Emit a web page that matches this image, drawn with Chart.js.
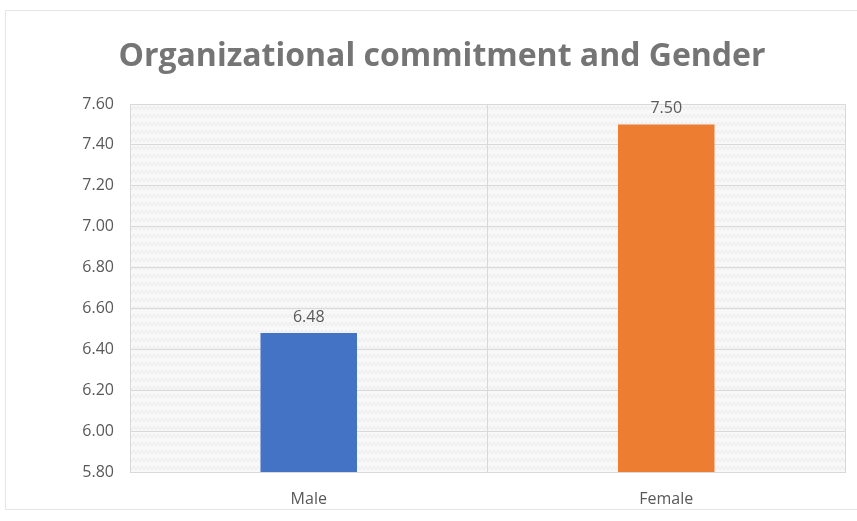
<!DOCTYPE html>
<html>
<head>
<meta charset="utf-8">
<script src="https://cdn.jsdelivr.net/npm/chart.js@4/dist/chart.umd.min.js"></script>
<style>
html,body{margin:0;padding:0;background:#fff;}
#wrap{position:absolute;left:0;top:0;width:857px;height:521px;}
#frame{position:absolute;left:5px;top:10px;width:860px;height:500px;border:1px solid #e6e6e6;box-sizing:border-box;pointer-events:none;}
</style>
</head>
<body>
<div id="wrap"><canvas id="c" width="857" height="521"></canvas></div>
<div id="frame"></div>
<script>
const categories = ["Male", "Female"];
const values = [6.48, 7.50];
const barColors = ["#4472C4", "#ED7D31"];
const titleText = "Organizational commitment and Gender";
const yMin = 5.8, yMax = 7.6, yStep = 0.2;

function makePattern(){
  const p = document.createElement('canvas');
  p.width = 8; p.height = 8;
  const g = p.getContext('2d');
  g.fillStyle = '#f8f8f8'; g.fillRect(0,0,8,8);
  g.strokeStyle = '#ececec'; g.lineWidth = 1;
  g.beginPath(); g.moveTo(0,6); g.lineTo(2,2); g.lineTo(4,6); g.lineTo(6,2); g.lineTo(8,6); g.stroke();
  return document.getElementById('c').getContext('2d').createPattern(p,'repeat');
}

const bgPlugin = {
  id:'bgPlugin',
  beforeDraw(chart){
    const {ctx, chartArea:a} = chart;
    ctx.save();
    ctx.fillStyle = makePattern();
    ctx.fillRect(a.left, a.top, a.right-a.left, a.bottom-a.top);
    ctx.restore();
  }
};
const titlePlugin = {
  id:'titlePlugin',
  afterDraw(chart){
    const {ctx} = chart;
    ctx.save();
    ctx.font = 'bold 32px "Open Sans", sans-serif';
    ctx.fillStyle = '#757575';
    ctx.textAlign = 'center';
    ctx.textBaseline = 'middle';
    ctx.fillText(titleText, 442, 57);
    ctx.restore();
  }
};
const labelPlugin = {
  id:'labelPlugin',
  afterDatasetsDraw(chart){
    const {ctx} = chart;
    const meta = chart.getDatasetMeta(0);
    ctx.save();
    ctx.font = '16px "Open Sans", sans-serif';
    ctx.fillStyle = '#595959';
    ctx.textAlign = 'center';
    ctx.textBaseline = 'bottom';
    meta.data.forEach((el,i)=>{
      ctx.fillText(values[i].toFixed(2), el.x, el.y - 8);
    });
    ctx.restore();
  }
};

new Chart(document.getElementById('c'), {
  type:'bar',
  data:{labels:categories, datasets:[{data:values, backgroundColor:barColors, borderWidth:0, barPercentage:0.27, categoryPercentage:1.0}]},
  options:{
    responsive:false, animation:false, devicePixelRatio:1,
    layout:{padding:{left:0,right:12,top:104,bottom:0}},
    plugins:{
      legend:{display:false}, tooltip:{enabled:false}, title:{display:false}
    },
    scales:{
      x:{
        grid:{color:'#d9d9d9', offset:true, drawTicks:false, lineWidth:1},
        border:{color:'#d9d9d9'},
        ticks:{color:'#595959', font:{family:'"Open Sans", sans-serif', size:16}, padding:18},
        afterFit(s){ s.height = 49; }
      },
      y:{
        min:yMin, max:yMax,
        grid:{color:'#d9d9d9', drawTicks:false},
        border:{display:false},
        ticks:{stepSize:yStep, color:'#595959', font:{family:'"Open Sans", sans-serif', size:16}, padding:16, callback:v=>Number(v).toFixed(2)},
        afterFit(s){ s.width = 130; }
      }
    }
  },
  plugins:[bgPlugin, labelPlugin, titlePlugin]
});
</script>
</body>
</html>
